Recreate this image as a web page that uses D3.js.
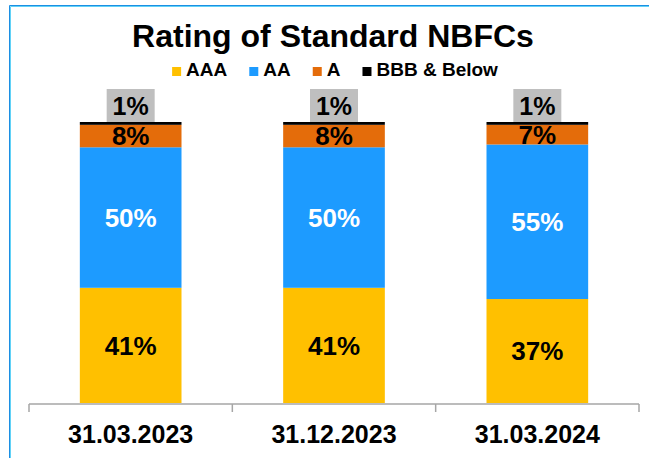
<!DOCTYPE html>
<html>
<head>
<meta charset="utf-8">
<script src="https://cdn.jsdelivr.net/npm/d3@7"></script>
<style>
  body { margin: 0; background: #fff; }
  svg { display: block; font-family: "Liberation Sans", Arial, sans-serif; }
</style>
</head>
<body>
<div id="chart"></div>
<script>
// data
const categories = ["31.03.2023", "31.12.2023", "31.03.2024"];
const seriesNames = ["AAA", "AA", "A", "BBB & Below"];
const seriesColors = ["#ffc000", "#1d9bff", "#e46c0a", "#000000"];
const labelColors = ["#000", "#fff", "#000", "#000"];
const aaa = [41, 41, 37];
const aa = [50, 50, 55];
const a = [8, 8, 7];
const bbb = [1, 1, 1];

const W = 649, H = 458;
const margin = { top: 122, right: 10, bottom: 55, left: 29 };

const svg = d3.select("#chart").append("svg")
    .attr("width", W)
    .attr("height", H);

// frame (two tone blue border, runs off the right/bottom)
svg.append("path")
    .attr("d", `M9.5,${H + 5}V5.5H${W + 5}`)
    .attr("fill", "none")
    .attr("stroke", "#1c8fe3")
    .attr("stroke-width", 1);
svg.append("path")
    .attr("d", `M10.5,${H + 5}V6.5H${W + 5}`)
    .attr("fill", "none")
    .attr("stroke", "#62d2f7")
    .attr("stroke-width", 1);

// title
svg.append("text")
    .attr("x", 333)
    .attr("y", 47)
    .attr("text-anchor", "middle")
    .attr("font-size", 32)
    .attr("font-weight", "bold")
    .text("Rating of Standard NBFCs");

const rows = categories.map((c, i) => ({
    category: c,
    AAA: aaa[i], AA: aa[i], A: a[i], "BBB & Below": bbb[i]
}));
const stacked = d3.stack().keys(seriesNames)(rows);

const x = d3.scaleBand()
    .domain(categories)
    .range([margin.left, W - margin.right])
    .paddingInner(0.5)
    .paddingOuter(0.25);

const y = d3.scaleLinear()
    .domain([0, 100])
    .range([H - margin.bottom, margin.top]);

// bars
const layers = svg.selectAll(".layer")
    .data(stacked)
    .enter()
    .append("g")
    .attr("class", "layer")
    .attr("fill", (d, i) => seriesColors[i]);

layers.selectAll("rect")
    .data(d => d)
    .enter()
    .append("rect")
    .attr("x", d => x(d.data.category))
    .attr("y", d => y(d[1]))
    .attr("width", x.bandwidth())
    .attr("height", d => y(d[0]) - y(d[1]));

// labels inside segments (first three series)
stacked.slice(0, 3).forEach((layer, si) => {
    svg.selectAll(".lbl" + si)
        .data(layer)
        .enter()
        .append("text")
        .attr("x", d => x(d.data.category) + x.bandwidth() / 2)
        .attr("y", d => (y(d[0]) + y(d[1])) / 2)
        .attr("dy", "0.36em")
        .attr("text-anchor", "middle")
        .attr("font-size", 26)
        .attr("font-weight", "bold")
        .attr("fill", labelColors[si])
        .text(d => (d[1] - d[0]) + "%");
});

// BBB label sits above the bar in a grey box
const topLayer = stacked[3];
const boxW = 48, boxH = 33;
const boxes = svg.selectAll(".bbb-label")
    .data(topLayer)
    .enter()
    .append("g")
    .attr("class", "bbb-label")
    .attr("transform", d => `translate(${x(d.data.category) + x.bandwidth() / 2},${y(d[1]) - boxH / 2})`);
boxes.append("rect")
    .attr("x", -boxW / 2)
    .attr("y", -boxH / 2)
    .attr("width", boxW)
    .attr("height", boxH)
    .attr("fill", "#bfbfbf");
boxes.append("text")
    .attr("text-anchor", "middle")
    .attr("dy", "0.36em")
    .attr("font-size", 25)
    .attr("font-weight", "bold")
    .text(d => (d[1] - d[0]) + "%");

// x axis: line with ticks between categories
const axisY = y(0) + 1;
const axisG = svg.append("g").attr("stroke", "#a6a6a6").attr("stroke-width", 1.5);
axisG.append("line")
    .attr("x1", margin.left).attr("x2", W - margin.right)
    .attr("y1", axisY).attr("y2", axisY);
const edges = categories.map(c => x(c) - x.step() * 0.25)
    .concat([x(categories[categories.length - 1]) + x.bandwidth() + x.step() * 0.25]);
axisG.selectAll(".tick")
    .data(edges)
    .enter()
    .append("line")
    .attr("x1", d => d).attr("x2", d => d)
    .attr("y1", axisY).attr("y2", axisY + 8);

svg.selectAll(".cat")
    .data(categories)
    .enter()
    .append("text")
    .attr("x", d => x(d) + x.bandwidth() / 2)
    .attr("y", 443)
    .attr("text-anchor", "middle")
    .attr("font-size", 25)
    .attr("font-weight", "bold")
    .text(d => d);

// legend
const legend = svg.append("g").attr("transform", "translate(0,76)");
const items = legend.selectAll(".item")
    .data(seriesNames)
    .enter()
    .append("g")
    .attr("class", "item");
items.append("rect")
    .attr("y", -9)
    .attr("width", 9)
    .attr("height", 9)
    .attr("fill", (d, i) => seriesColors[i]);
items.append("text")
    .attr("x", 14)
    .attr("font-size", 19)
    .attr("font-weight", "bold")
    .text(d => d);

const gap = 22;
let widths = [];
items.each(function () {
    widths.push(14 + d3.select(this).select("text").node().getComputedTextLength());
});
const total = d3.sum(widths) + gap * (widths.length - 1);
let cx = 335 - total / 2;
items.attr("transform", (d, i) => {
    const t = `translate(${cx},0)`;
    cx += widths[i] + gap;
    return t;
});
</script>
</body>
</html>
